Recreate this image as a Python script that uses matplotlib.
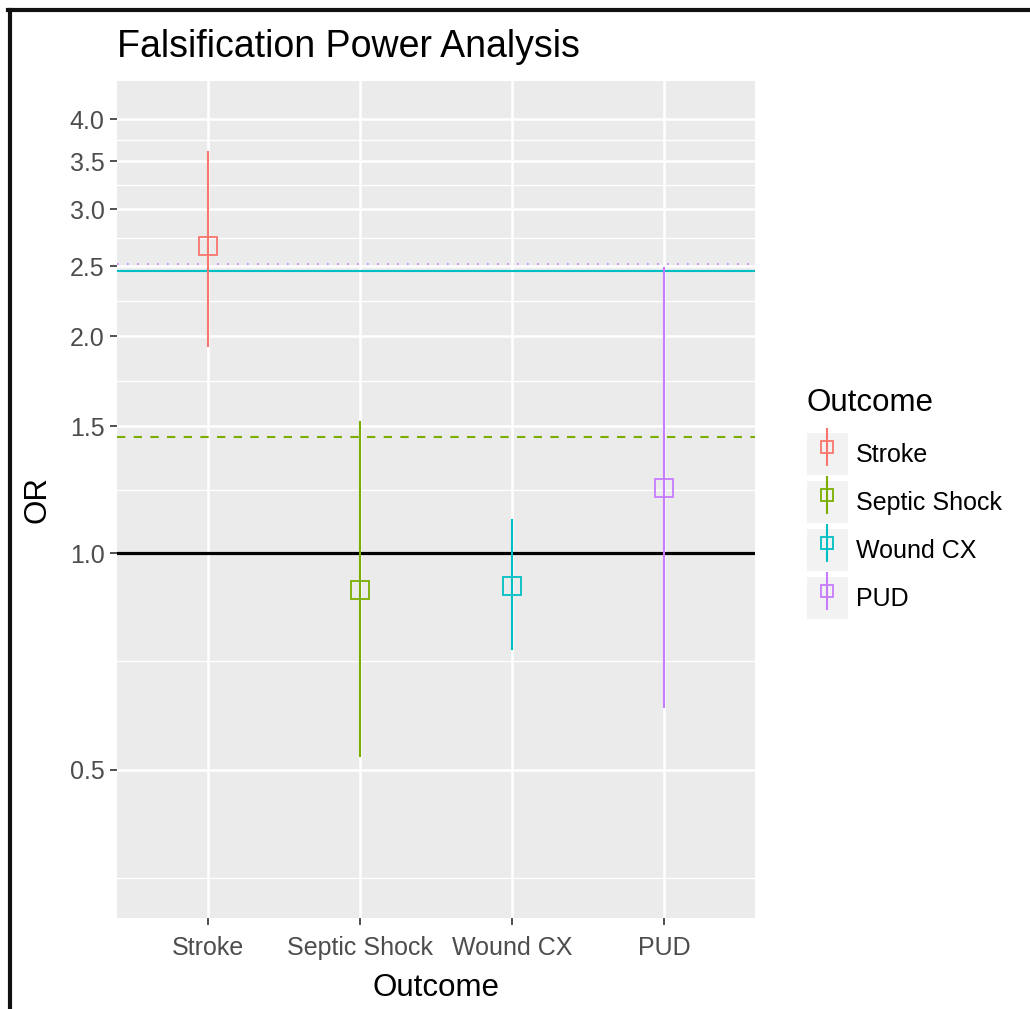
import numpy as np
import matplotlib
matplotlib.use('Agg')
import matplotlib.pyplot as plt
from matplotlib.lines import Line2D
from matplotlib.patches import Patch
from matplotlib.legend_handler import HandlerTuple
from matplotlib.ticker import FixedLocator, FuncFormatter

plt.rcParams['font.family'] = ['Liberation Sans', 'DejaVu Sans']

# data
outcomes = ['Stroke', 'Septic Shock', 'Wound CX', 'PUD']
odds     = [2.67, 0.889, 0.90, 1.23]
lower    = [1.94, 0.522, 0.736, 0.612]
upper    = [3.60, 1.52, 1.11, 2.49]
colors   = ['#F8766D', '#7CAE00', '#00BFC4', '#C77CFF']

# reference lines
ref_null   = 1.0
ref_septic = 1.45
ref_wound  = 2.46
ref_pud    = 2.52

y_breaks = [0.5, 1.0, 1.5, 2.0, 2.5, 3.0, 3.5, 4.0]

fig = plt.figure(figsize=(10.30, 10.09), dpi=100)
ax = fig.add_axes([117/1030, 1 - 918/1009, (755 - 117)/1030, (918 - 81)/1009])
ax.set_facecolor('#EBEBEB')
for s in ax.spines.values():
    s.set_visible(False)

ax.set_yscale('log')
ax.set_ylim(0.3115, 4.52)
ax.set_xlim(0.4, 4.6)

# grid, ggplot style
lb = np.log(y_breaks)
minor = np.exp((lb[:-1] + lb[1:]) / 2)
minor = np.append(np.exp(lb[0] - (lb[1] - lb[0]) / 2), minor)
for m in minor:
    ax.axhline(m, color='white', lw=1.0, zorder=0)
for b in y_breaks:
    ax.axhline(b, color='white', lw=1.8, zorder=0)
xs = np.arange(1, len(outcomes) + 1)
for x in xs:
    ax.axvline(x, color='white', lw=1.8, zorder=0)

ax.yaxis.set_major_locator(FixedLocator(y_breaks))
ax.yaxis.set_minor_locator(FixedLocator([]))
ax.yaxis.set_major_formatter(FuncFormatter(lambda v, p: '%.1f' % v))
ax.set_xticks(xs)
ax.set_xticklabels(outcomes)
ax.tick_params(axis='both', length=5, width=1.2, color='#333333', labelcolor='#4D4D4D',
               labelsize=18)
ax.tick_params(axis='y', pad=4)
ax.tick_params(axis='x', pad=8)

# horizontal reference lines
ax.axhline(ref_null, color='black', lw=2.3, zorder=2)
ax.axhline(ref_septic, color=colors[1], lw=1.5, ls=(0, (4, 4)), zorder=2)
ax.axhline(ref_wound, color=colors[2], lw=1.5, zorder=2)
ax.axhline(ref_pud, color=colors[3], lw=1.2, ls=(0, (1, 5)), zorder=2)

# point ranges
for i in range(len(outcomes)):
    ax.plot([xs[i], xs[i]], [lower[i], upper[i]], color=colors[i], lw=1.5, zorder=3)
    ax.plot(xs[i], odds[i], marker='s', ms=13, mfc='none', mec=colors[i], mew=1.3,
            ls='none', zorder=4)

ax.set_title('Falsification Power Analysis', loc='left', fontsize=27, pad=17)
ax.set_xlabel('Outcome', fontsize=22.5, labelpad=9)
ax.set_ylabel('OR', fontsize=22.5, labelpad=12)

# legend
handles = []
for c in colors:
    handles.append((Patch(facecolor='#F2F2F2', edgecolor='white', lw=1.5),
                    Line2D([], [], marker='|', ms=27, mew=1.5, color=c, ls='none'),
                    Line2D([], [], marker='s', ms=8.5, mfc='none', mec=c, mew=1.3, ls='none')))
leg = fig.legend(handles, outcomes, title='Outcome', loc='upper left',
                 bbox_to_anchor=(806/1030, 1 - 388/1009), frameon=False,
                 handler_map={tuple: HandlerTuple(ndivide=1, pad=0)},
                 fontsize=18, title_fontsize=22.5, handlelength=1.7, handleheight=2.33,
                 labelspacing=0.16, handletextpad=0.3, borderaxespad=0, borderpad=0,
                 alignment='left')
leg._legend_box.sep = 10  # a bit more room under the legend title

# border from the screenshot (top and left edges)
fig.add_artist(Line2D([10/1030, 10/1030], [0, 1 - 10/1009], color='#111111', lw=3,
                      transform=fig.transFigure))
fig.add_artist(Line2D([8/1030, 1], [1 - 10/1009, 1 - 10/1009], color='#111111', lw=3,
                      transform=fig.transFigure))

fig.savefig('out.png', dpi=100)
